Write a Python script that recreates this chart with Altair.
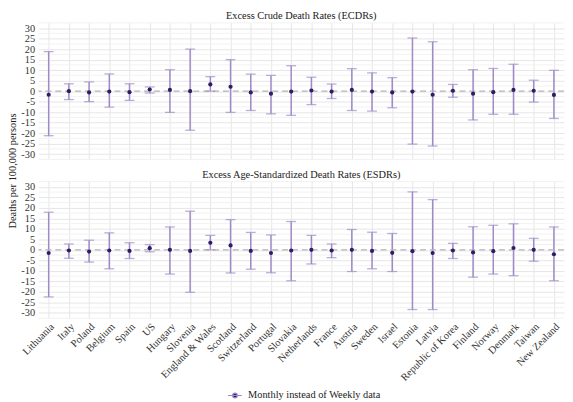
import altair as alt
import pandas as pd

countries = ["Lithuania", "Italy", "Poland", "Belgium", "Spain", "US", "Hungary", "Slovenia",
             "England & Wales", "Scotland", "Switzerland", "Portugal", "Slovakia", "Netherlands",
             "France", "Austria", "Sweden", "Israel", "Estonia", "Latvia", "Republic of Korea",
             "Finland", "Norway", "Denmark", "Taiwan", "New Zealand"]

ecdr_est = [-1.7, 0.0, -0.6, -0.2, -0.5, 0.8, 0.6, 0.0, 3.2, 2.1, -0.6, -1.2, -0.2, 0.3,
            -0.2, 0.6, -0.2, -0.6, -0.2, -1.7, 0.2, -1.2, -0.5, 0.6, 0.2, -1.8]
ecdr_lo = [-21.2, -4.0, -5.0, -7.6, -4.4, -0.9, -10.1, -18.6, 0.0, -10.1, -9.2, -10.8, -11.5, -6.4,
           -3.5, -9.2, -9.5, -7.9, -25.2, -26.1, -2.9, -13.7, -11.0, -11.0, -5.2, -13.0]
ecdr_hi = [18.8, 3.5, 4.4, 8.2, 3.5, 2.0, 10.2, 20.0, 6.9, 15.0, 8.1, 7.5, 12.1, 6.6,
           3.4, 10.7, 8.7, 6.4, 25.3, 23.5, 3.2, 10.2, 10.8, 12.8, 5.2, 9.9]

esdr_est = [-1.5, -0.3, -0.8, -0.3, -0.5, 0.8, 0.0, -0.5, 3.4, 2.1, -0.5, -1.5, -0.3, 0.0,
            -0.3, 0.0, -0.5, -1.4, -0.6, -1.5, -0.3, -1.2, -0.6, 0.9, 0.0, -2.1]
esdr_lo = [-22.4, -4.0, -5.8, -9.0, -4.1, -0.9, -11.5, -20.2, 0.0, -11.0, -9.2, -10.9, -14.7, -6.7,
           -3.7, -10.3, -9.0, -10.3, -28.4, -28.4, -4.1, -13.0, -11.5, -12.3, -5.4, -14.7]
esdr_hi = [17.9, 2.8, 4.6, 8.1, 3.4, 2.5, 10.9, 18.4, 6.9, 14.4, 8.3, 7.1, 13.5, 6.9,
           2.8, 9.7, 8.4, 7.8, 27.6, 23.9, 3.1, 11.0, 11.7, 12.4, 5.5, 10.9]

panels = ["Excess Crude Death Rates (ECDRs)", "Excess Age-Standardized Death Rates (ESDRs)"]
legend_label = "Monthly instead of Weekly data"
y_title = "Deaths per 100,000 persons"

y_major = [-30, -25, -20, -15, -10, -5, 0, 5, 10, 15, 20, 25, 30]
y_minor = [-32.5, -27.5, -22.5, -17.5, -12.5, -7.5, -2.5, 2.5, 7.5, 12.5, 17.5, 22.5, 27.5, 32.5]

FONT = "Liberation Serif"
FS = 10.5
BAR = "#9d8ac6"
PT = "#2f1c63"
W, H = 533, 139


def make_df(est, lo, hi):
    return pd.DataFrame({"country": countries, "est": est, "lo": lo, "hi": hi,
                         "type": [legend_label] * len(countries)})


def panel(df, title, show_x, show_ytitle, show_legend):
    x_scale = alt.Scale(type="point", padding=0.5)
    x_axis = alt.Axis(labelAngle=-45, labelAlign="right", labelBaseline="top",
                      grid=True, ticks=False, domain=False, labelPadding=3,
                      labels=show_x, gridColor="#e6e6e6", title=None, labelOverlap=False)
    y_scale = alt.Scale(domain=[-32.6, 32.6], nice=False, zero=False)
    y_axis = alt.Axis(values=y_major, ticks=False, domain=False, labelPadding=4,
                      labelOverlap=False, labelExpr="datum.value + ''",
                      title=y_title if show_ytitle else "",
                      titleY=H + 11, titleAnchor="middle", titlePadding=3,
                      grid=True, gridColor="#e6e6e6")

    def X():
        return alt.X("country:N", sort=countries, scale=x_scale, axis=x_axis)

    def Y(f):
        return alt.Y(f, scale=y_scale, axis=y_axis)

    base = alt.Chart(df)
    minor = alt.Chart(pd.DataFrame({"v": y_minor})).mark_rule(color="#f2f2f2", strokeWidth=1).encode(
        y=Y("v:Q"))
    bars = base.mark_rule(color=BAR, strokeWidth=1.5).encode(x=X(), y=Y("lo:Q"), y2="hi:Q")
    zero = alt.Chart(pd.DataFrame({"v": [0]})).mark_rule(
        color="#b3b3b3", strokeDash=[6, 4], strokeWidth=1.2).encode(y=Y("v:Q"))
    cap_hi = base.mark_tick(color=BAR, orient="horizontal", size=10, thickness=1.3).encode(
        x=X(), y=Y("hi:Q"))
    cap_lo = base.mark_tick(color=BAR, orient="horizontal", size=10, thickness=1.3).encode(
        x=X(), y=Y("lo:Q"))
    if show_legend:
        color = alt.Color("type:N", scale=alt.Scale(range=[PT]),
                          legend=alt.Legend(title=None, orient="none", legendX=194, legendY=373,
                                            symbolSize=64, labelOffset=8,
                                            symbolType="M-1.75,0H1.75M-0.6,0a0.6,0.6 0 1,0 1.2,0a0.6,0.6 0 1,0 -1.2,0",
                                            symbolStrokeColor=BAR, symbolStrokeWidth=1.2))
    else:
        color = alt.value(PT)
    pts = base.mark_point(filled=True, size=18, opacity=1, color=PT).encode(
        x=X(), y=Y("est:Q"), color=color)
    return alt.layer(minor, bars, zero, cap_hi, cap_lo, pts).properties(
        width=W, height=H,
        title=alt.TitleParams(title, font=FONT, fontSize=FS, fontWeight="normal",
                              color="#222", offset=1, anchor="middle"))


top = panel(make_df(ecdr_est, ecdr_lo, ecdr_hi), panels[0], False, True, False)
bottom = panel(make_df(esdr_est, esdr_lo, esdr_hi), panels[1], True, False, True)

chart = alt.vconcat(top, bottom, spacing=22, bounds="flush").configure_view(stroke=None).configure_axis(
    labelFont=FONT, labelFontSize=FS, labelColor="#333", titleFont=FONT, titleFontSize=FS,
    titleFontWeight="normal", titleColor="#222"
).configure_legend(labelFont=FONT, labelFontSize=FS, labelColor="#222").properties(
    padding={"left": 0, "top": 0, "right": 0, "bottom": 0}
)

chart.save("out.html", embed_options={"renderer": "svg", "actions": False})
